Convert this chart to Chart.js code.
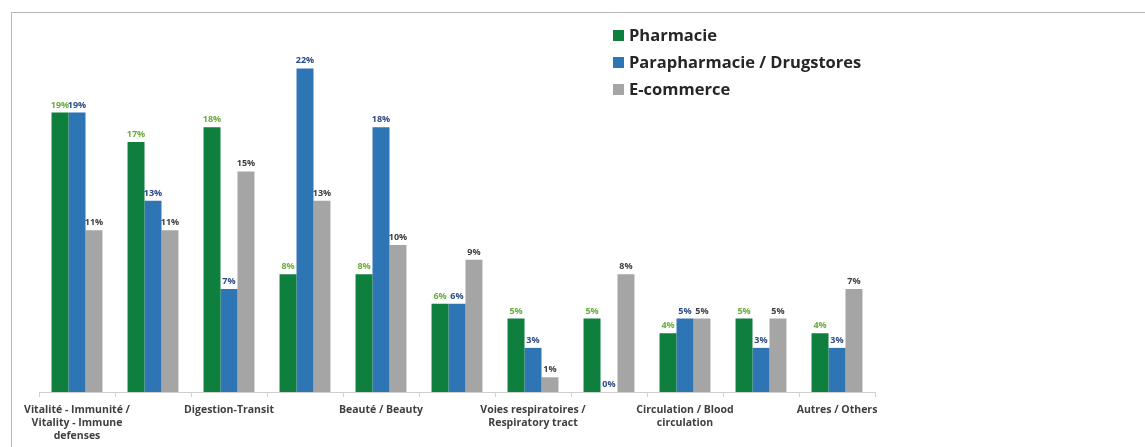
<!DOCTYPE html>
<html lang="fr">
<head>
    <meta charset="utf-8" />
    <title>Canaux de distribution</title>
    <script src="https://cdn.jsdelivr.net/npm/chart.js@4.4.0/dist/chart.umd.min.js"></script>
    <style>
        body { margin: 0; background: #fff; }
        #wrap { position: relative; width: 1145px; height: 447px; overflow: hidden; }
        #frame { position: absolute; left: 11px; top: 12px; width: 1150px; height: 460px;
                 border-left: 1px solid #b8b8b8; border-top: 1px solid #b8b8b8; }
        #legend { position: absolute; left: 613px; top: 23px; font-family: "Open Sans", sans-serif;
                  font-weight: bold; font-size: 16.5px; color: #262626; }
        #legend div { height: 27px; line-height: 24px; white-space: nowrap; }
        #legend span { display: inline-block; width: 11px; height: 11px; margin-right: 5px; vertical-align: 0px; }
        canvas { position: absolute; left: 0; top: 0; }
    </style>
</head>
<body>
<div id="wrap">
    <div id="frame"></div>
    <canvas id="myChart" width="1145" height="447"></canvas>
    <div id="legend"></div>
</div>
<script>
// categories (only every other label is shown on the axis in the source)
var categories = ['Vitalité - Immunité / Vitality - Immune defenses', '', 'Digestion-Transit', '',
    'Beauté / Beauty', '', 'Voies respiratoires / Respiratory tract', '',
    'Circulation / Blood circulation', '', 'Autres / Others'];
var tickLines = [['Vitalité - Immunité /', 'Vitality - Immune', 'defenses'], [], ['Digestion-Transit'], [],
    ['Beauté / Beauty'], [], ['Voies respiratoires /', 'Respiratory tract'], [],
    ['Circulation / Blood', 'circulation'], [], ['Autres / Others']];

var seriesNames = ['Pharmacie', 'Parapharmacie / Drugstores', 'E-commerce'];
var pharmacie = [19, 17, 18, 8, 8, 6, 5, 5, 4, 5, 4];
var parapharmacie = [19, 13, 7, 22, 18, 6, 3, 0, 5, 3, 3];
var ecommerce = [11, 11, 15, 13, 10, 9, 1, 8, 5, 5, 7];

var barColors = ['#0f7f3e', '#2e75b6', '#a5a5a5'];
var labelColors = ['#6aab3c', '#2b4a86', '#404040'];

// value labels above the bars
var valueLabels = {
    id: 'valueLabels',
    afterDatasetsDraw: function (chart) {
        var ctx = chart.ctx;
        ctx.save();
        ctx.font = 'bold 9px "Open Sans", sans-serif';
        ctx.textAlign = 'center';
        ctx.textBaseline = 'bottom';
        chart.data.datasets.forEach(function (ds, i) {
            var meta = chart.getDatasetMeta(i);
            ctx.fillStyle = labelColors[i];
            meta.data.forEach(function (bar, j) {
                ctx.fillText(ds.data[j] + '%', bar.x, bar.y - 3);
            });
        });
        ctx.restore();
    }
};

var datasets = [pharmacie, parapharmacie, ecommerce].map(function (d, i) {
    return {
        label: seriesNames[i],
        data: d,
        backgroundColor: barColors[i],
        categoryPercentage: 0.67,
        barPercentage: 1.0
    };
});

var ctx = document.getElementById('myChart').getContext('2d');
var myChart = new Chart(ctx, {
    type: 'bar',
    data: { labels: categories, datasets: datasets },
    options: {
        responsive: false,
        animation: false,
        layout: { padding: { left: 39, right: 270, top: 39, bottom: 0 } },
        plugins: { legend: { display: false }, tooltip: { enabled: false } },
        scales: {
            y: { display: false, min: 0, max: 24 },
            x: {
                grid: { display: true, drawOnChartArea: false, drawTicks: true, tickLength: 5, color: '#d0d0d0' },
                border: { display: true, color: '#d0d0d0' },
                ticks: {
                    autoSkip: false,
                    maxRotation: 0,
                    padding: 7,
                    color: '#404040',
                    font: { family: 'Open Sans', size: 10.5, weight: 'bold', lineHeight: '13px' },
                    callback: function (v, i) { return tickLines[i]; }
                },
                afterFit: function (scale) { scale.height = 55; }
            }
        }
    },
    plugins: [valueLabels]
});

// legend
var legend = document.getElementById('legend');
seriesNames.forEach(function (name, i) {
    var row = document.createElement('div');
    row.innerHTML = '<span style="background:' + barColors[i] + '"></span>' + name;
    legend.appendChild(row);
});
</script>
</body>
</html>
